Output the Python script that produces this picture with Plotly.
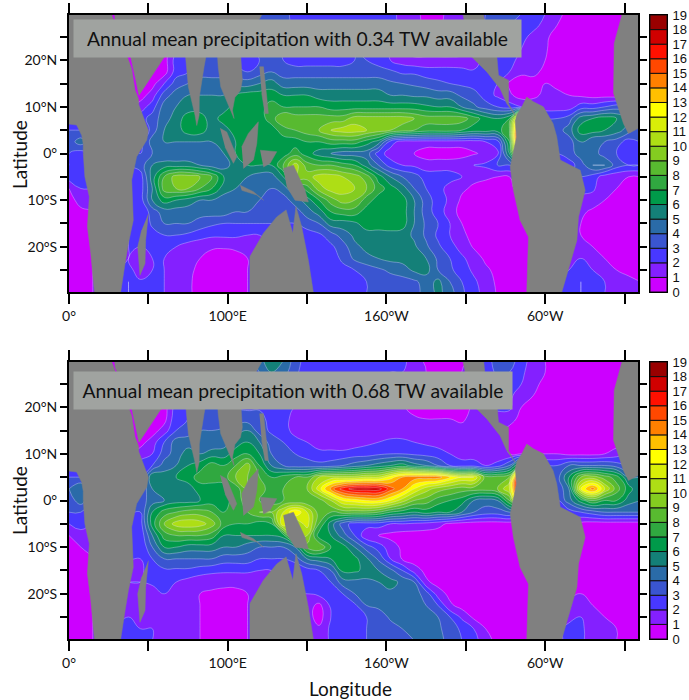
import plotly.graph_objects as go

lons = [i * 7.5 for i in range(49)]
lats = [30 - i * 2.5 for i in range(25)]
levels = list(range(20))
band_colors = ["#CC00FF","#8420FF","#4838FF","#3A55D0","#2A6BA8","#148078","#009A4A","#30A840","#58BA30",
               "#84CC20","#AEDE15","#D8EE08","#FFFF00","#FFC000","#FF8000","#FF4800","#FF1000","#D00000","#990000"]

precip_034 = [
 [.5,.5,.5,.5,.5,.5,.5,.5,.5,.5,.5,.5, 2,2.5,3,3.5,3.5,3.5,3.5,2.5,2.5,2.5,2.5,2.5, 2.5,2.5,2.5,2.5,1.5,1.5,.5,.5,1.5,1.5,2,3, 3.5,3.5,3,2.5,2,1.5,.5,.5,.5,.5,.5,.5, .5],
 [.5,.5,.5,.5,.5,.5,.5,.5,1,2,3,3, 3,3,3,3.5,3.5,3.5,3.5,2.5,2.5,2.5,2.5,2.5, 2.5,2.5,2.5,2.5,1.5,1.2,.8,.8,1.2,1.5,2,3, 3.2,3,2.5,2.2,1.8,1,.5,.5,.5,.5,.5,.5, .5],
 [.5,.5,.5,.5,.5,.5,.5,.5,.8,2,3,3, 3,3,3,3.2,3.2,3.2,3,2.5,2.5,2.5,2.5,2.5, 2.5,2.5,2.5,2.2,1.2,1,.7,.7,.9,1.2,2,2.5, 3,2.8,2.2,1.8,1.2,.6,.5,.5,.5,.5,.5,.5, .5],
 [.5,.5,.5,.5,.5,.5,.5,.5,.6,2,2.8,3, 3,3,3,3,3.2,3.2,3,2.5,2.5,2.5,2.5,2.5, 3,2.5,2.5,2,.8,.5,.5,.5,.5,.7,1.2,2, 2.5,2.5,2,1.5,1.1,.6,.5,.5,.5,.5,.5,.5, .5],
 [.5,.5,.5,.5,.5,.5,.5,.5,.5,2.5,3,3, 3.5,3.5,3,2.5,3,3.5,3,2.5,2.5,2.5,2.5,2.5, 3,3,2.5,2,1.5,1.2,1.2,1.2,1.2,1.2,1.2,2.5, 2.5,2.5,1.5,1.2,1,.5,.5,.5,.5,.5,.5,.5, .5],
 [.5,.5,.5,.5,.5,.5,.5,.5,.5,2.5,3,3.5, 3.5,3.5,3.5,3,3.5,4,3.5,3.5,3.5,3.5,3.5,3.5, 3.5,3.5,3.5,3.2,2.8,2.8,2.5,2.5,2.5,2.4,2.2,2, 2.5,2,1.2,1.2,.8,.5,.5,.5,.5,.5,.5,.5, .5],
 [.5,.5,.5,.5,.5,.5,.5,.6,2,3.5,4,4.5, 4.5,4.5,4.5,4.5,5,5.5,4.5,4.5,4.5,4.5,4.5,4.5, 4.5,4.5,4.5,4.2,4,3.8,3.5,3.2,3,2.8,2.5,2.2, 2,.8,.5,.7,1,.5,.5,.5,.5,.5,.5,.5, .5],
 [.5,.5,.5,.5,.5,.5,.5,1.5,3.5,4.5,5,5, 5,5,6,6.5,6.5,6.5,6,6,6,5.5,5.5,5.5, 5.5,5.5,5.5,5,5,4.8,4.8,4.5,4.5,3.8,3.5,2.5, 1.8,1.2,.5,.8,1.2,1.5,1,.8,.6,.6,.5,.5, .5],
 [1,1,1,1,1,1,1.5,2.5,4.5,5,5.5,5.5, 5.5,5.5,6.5,6.5,6.5,7.5,7,7,7,7,6.5,6.5, 6.5,6.5,6.5,6.5,6.5,6.5,6.2,6,6,5,4.2,3.5, 3,2.5,2,1.5,1.5,1.5,1.5,2.5,2.5,3,3.5,3.5, 3.5],
 [2,2,2,2,2,2,2.5,3.5,4.5,5.5,6.5,6.5, 5.5,6.5,6.5,6.5,6.5,7.5,9,8.5,8.5,8.5,8.5,8.5, 9.5,9.5,9.5,9.5,9.5,9,8.5,8.5,8.5,8.5,7.5,6.5, 6,7,15,4,3,3,3.5,5.5,6,6.5,6,5, 4],
 [3,3,3,3,2.5,2,1.5,3.5,5,5.5,6.5,6.5, 5.5,5.5,6.5,6.5,6.5,6.5,7.5,8,8.5,9,10,10.5, 10.5,10,9.5,9,8.5,8,7.5,7.5,7.5,7,6.5,6.5, 6.5,8,19,4.5,3.5,3.5,4.5,6.5,6.5,6,5.5,4.5, 3],
 [3.5,4.5,3,3,3,3,2.5,4.5,5,5,5,5, 5,5.5,6,6,6,6,6.5,6.5,7,7,7.5,7.5, 7.5,6.5,5.5,2.5,1.5,1.5,1.5,1.5,1.5,1.5,1.5,2, 2.5,7,19,3.5,3,3,3.5,5,4,4,3.5,2.5, 3],
 [3,2.5,3,3,3,3,3,4,4,4,4,4, 4,5,6,6,6,6,6.5,7.5,6.5,5.5,5,4.5, 4.5,4.5,2.5,1.5,1.3,1,.5,.5,.5,.5,.9,1.2, 1.8,6,14,3,3,3,3.5,4.5,4.5,3.5,3,2.5, 2.5],
 [3,2.5,2.5,2.5,2.5,3,3.5,5,5.5,5.5,5.5,5, 4.5,4.5,5.5,6,6,6,8,10.5,8.5,8,8,7.5, 7,5.5,4,2.5,2,1.8,1.5,1.5,1.5,1.8,2,2.2, 3,3,5,3,2.8,2.6,2.5,3.5,5,5,3.5,3, 3],
 [2.5,2.5,2,2,2,2,2.5,5.5,8,9.5,9.5,9, 8,6,5.5,5,4.5,4.5,6,10,9.5,10.5,10.5,10, 9.5,8.5,6.5,5,4,3.5,2.5,2.5,2.5,2,1.3,1.2, 1,1,1,1.5,2,2.5,3,3,2.5,1.5,1.2,1, 1],
 [1,2,2,2,2,2,2.5,5,8.5,9,9,8, 7,5.5,5,4.5,4.5,4,4.5,6,7.5,9.5,10.5,10.5, 10,9,7.5,6.5,5.5,4,3,2.5,1.5,1.2,.8,.5, .5,.7,1.5,2,2.5,2.8,2.8,2.5,2.2,1.2,1,.7, .6],
 [.5,1.5,1.5,1.5,1.5,2,2.5,5,6.5,6,5.5,5, 5,4.5,4.5,4.5,4,3.5,3.5,4.5,5.5,7,8.5,9.5, 9,7.5,6.5,6.5,6.5,5,3.5,2.5,1.8,.8,.5,.5, .5,.5,1,1.5,1.5,1.5,1.5,1.5,1.5,1,.7,.6, .5],
 [.5,.7,1,1,1.5,2,2,3.5,4.5,4.5,4.5,4.5, 4.5,4.5,4,4,3.5,3,3,3.5,4.5,5.5,7,7.5, 7.5,6.5,6.5,6.5,6.5,5,3.5,2.5,1.5,.6,.5,.5, .5,.5,.5,.8,1,1,1.2,1.2,.8,.7,.5,.5, .5],
 [.5,.5,1,1,1.5,2,2,3.2,4,4,4,3.5, 3.2,3,3,3,3,3,3,3,3.5,4,5.5,5.5, 5.8,6.5,6.5,6.5,6.5,5,3.8,3,2,1,.5,.5, .5,.5,.5,.6,.7,.8,1,1,.7,.5,.5,.5, .5],
 [.5,.5,1,1,1.5,2,2,2.6,3,3,2.8,2.5, 2.2,2.2,2.2,2,2,2,2,2.2,2.5,2.8,3.5,4.5, 5.2,5.6,5.6,5.7,5.5,4.8,3.8,2.8,2,1.2,.7,.5, .5,.5,.5,.5,.6,.8,1,1,.7,.5,.5,.5, .5],
 [.5,.5,1,1,1.5,2,2,2.2,2.2,2,1.5,1.2, 1.1,1.1,1.2,1.5,1.8,2,2,2.1,2.2,2.5,2.8,3.5, 4.8,5.2,5.4,5.5,5.5,5.2,4.2,3.2,2.4,1.6,.9,.6, .5,.5,.5,.5,.7,1,1.5,1.5,1,.7,.5,.5, .5],
 [.5,.5,1,1,1.5,2,1.5,2,2,1.5,1.2,1, .7,.5,.6,1,1.5,2,2,2,2,2.2,2.5,3.2, 4.2,4.8,5,5.3,5.4,5.3,5,3.8,3,2.2,1.5,.8, .6,.5,.5,.5,.8,1.2,1.5,2,1.5,1,.7,.5, .5],
 [.5,.5,1,1.5,2,2.5,1.2,2,2,1.3,1.1,.9, .5,.5,.5,1,1.5,2,2,2,2,2.2,2.3,2.7, 3,3.3,3.8,4.2,4.5,5.2,5.4,4,3.2,2.5,1.8,1.2, .7,.5,.5,.5,1,1.5,2,2.5,2,1.5,1,.8, .7],
 [.5,.5,1,1.5,2.5,3,2.2,2.2,2,1.3,1.1,.8, .5,.5,.5,1,1.5,2,2,2,2,2.2,2.3,2.5, 2.8,3,3.3,3.5,3.6,3.8,4.4,5.3,4,3,2.2,1.5, .8,.5,.5,.5,1,2,2.5,3,2.5,2,1.5,1.2, 1],
 [.5,.5,1,1.5,2.5,3,2.5,2.2,2,1.3,1.1,.8, .5,.5,.5,1,1.5,2,2,2,2,2.2,2.3,2.5, 2.8,3,3.2,3.4,3.6,3.8,4.2,5.3,4.5,3.2,2.4,1.6, .9,.5,.5,.5,1,2,2.5,3,2.5,2,1.5,1.2, 1],
]

precip_068 = [
 [.5,.5,.5,.5,.5,.5,.5,.5,.5,.5,.5,.5, 2,2.5,3,3.5,4.5,6,5,3.5,2.5,2.5,2.5,2.5, 2.3,2.3,2.3,2.3,2.3,1.5,.8,.5,.5,.5,1.5,2.5, 3.5,3.5,2.5,1.5,1,.7,.5,.5,.5,.5,.5,.5, .5],
 [.5,.5,.5,.5,.5,.5,.5,.5,1,2,3,3, 3,3,3,3.5,4,5,4.5,3.2,2.5,2.2,2.2,2.2, 2.2,2.2,2.2,2,2,1.5,1,.8,.8,1,1.5,2.5, 3.2,3,2.2,1.5,1,.6,.5,.5,.5,.5,.5,.5, .5],
 [.5,.5,.5,.5,.5,.5,.5,.5,.8,2,3,3, 3,3,3,3.2,3.5,4,3.5,3,2.5,2,2,2, 2,2,2,1.8,1.6,1.2,.8,.6,.6,.8,1.2,2.2, 2.8,2.6,2,1.2,.8,.5,.5,.5,.5,.5,.5,.5, .5],
 [.5,.5,.5,.5,.5,.5,.5,.5,.6,2,2.8,3, 3,3,3,3,3,3,3,2.5,2.2,1.8,1.8,1.6, 1.6,1.6,1.6,1.5,1.2,.8,.5,.5,.5,.6,1,1.8, 2.2,2.2,1.5,1,.6,.5,.5,.5,.5,.5,.5,.5, .5],
 [.5,.5,.5,.5,.5,.5,.5,.5,.5,2.5,3,3, 3,3,3,2.8,2.8,2.5,2.5,2,2,1.7,1.7,1.4, 1.5,1.5,1.5,1.5,1.2,.5,.5,.5,.5,.5,1.2,2, 2.2,2.2,1,.8,.5,.5,.5,.5,.5,.5,.5,.5, .5],
 [.5,.5,.5,.5,.5,.5,.5,.5,.6,2.8,3,3, 3,3.2,3.5,3.5,3.5,2.5,2.5,1.5,1.3,1.2,1.2,1.2, 1.2,1.2,1.3,1.3,1.3,1.2,1,1,1,.9,1.2,1.5, 1.6,1.5,.6,.5,.5,.5,.5,.5,.5,.5,.5,.5, .5],
 [.5,.5,.5,.5,.5,.5,.5,.5,1.5,3,3.5,4, 4,4.2,4.5,5,3.5,2.8,2.6,1.5,1.2,1.2,1.2,1.2, 1.2,1.3,1.5,1.5,1.5,1.5,1.3,1.3,1.2,1.2,1.5,1.5, 1.3,.6,.5,.5,.5,.5,.5,.5,.5,.5,.5,.5, .5],
 [.5,.5,.5,.5,.5,.5,.6,1.5,3,4.5,4.5,4.5, 4.2,4.5,5.5,6,5,3.5,3,2.5,2,1.5,1.4,1.3, 1.5,1.8,2,2.2,2.2,2,1.8,1.6,1.4,1.4,1.6,1.7, 1.3,.9,.5,.5,.5,.5,.5,.5,.5,.5,.5,.5, .5],
 [1,1,1,1,1,1,1.5,2,3.5,4.5,5.5,5, 5.5,5.5,6.5,7,6,4,3.2,3,2.6,2.3,2.3,2.3, 2.5,2.5,2.8,3,3,2.8,2.6,2.4,2,1.5,1.5,1.5, 1,1,1,1,1,1,.7,.7,.7,1,1.5,2, 2],
 [2,2,2,2,2,2,2.5,3,4.5,5,6,6.5, 7.5,7,8,9.5,7,5,4,3.5,3.5,3.3,3.5,4, 4.5,5,5.5,6,6.5,5.5,5,4,3,2.5,2.5,2, 2.5,4,8,3,3,3,4,4,4,4,3.5,3, 3],
 [3,3,3,3,2.5,2,2,6,5.5,6,6.5,7.5, 7.5,7.5,9,9,8,7,7.5,8,8,10,10.5,10.5, 10.5,11,11,12.5,14,14.5,14.5,14.5,13,12,12,8.5, 8.5,9,19,8,5,3.5,6,9,9.5,8.5,7.5,5, 5],
 [4,5,3,3,3,3,3,5,5.5,5.5,5.5,6.5, 6.5,6.5,7.5,9,8.5,7.5,8,8,9,11.5,14.5,16.5, 17.5,17.5,17.5,15.5,14,12,10.5,9.5,9,8.5,8.5,8.5, 9,11,19,8,5,3,5,12,14.5,11,8.5,6.5, 5],
 [3.5,4.5,3,3,3,3,3.5,4.5,5,5.5,5.5,6, 6.5,6.5,7.5,8.5,8,7.5,8,8,8,8.5,10,12, 12.5,13,13,12,10.5,9,8.5,7.5,7,6.5,5,4.5, 5,8,15,4,3,3,4.5,6.5,8,7,7,5.5, 5],
 [3,3,2.5,2.5,2.5,3,3,6,7.5,8,8.5,8.5, 8,7,7.5,8,9,9,11,13,11,8.5,8,8.5, 8.5,8.5,8,7,6.5,6,6.5,6,6,5,4,3.5, 3.5,4,3,3,3,2.5,2.5,3,3.5,4,4,4, 4],
 [2,2.5,2,2,2,2,2.5,6.5,9,10.5,10.8,10.5, 9.5,7.5,7,7,6.5,7,12,10,11.5,8,5.5,3.5, 2.5,2.5,2.5,2,2,1.8,1.6,1.3,.8,.6,.5,.5, .5,.5,.5,1,1.5,1.5,1.5,.7,.5,.5,.5,.5, .5],
 [1,1.5,1.5,1.5,1.5,2,2.2,5,7.5,8,8,8, 7.5,6,6,6,6,6,6.5,11,10,6.5,6,4.5, 3,1.2,1,.7,.5,.5,.5,.5,.5,.5,.5,.5, .5,.5,.5,.5,.5,.5,.5,.5,.5,.5,.5,.5, .5],
 [.5,1,1,1,1.5,2,2,4,6,6,5.5,5.5, 5.5,5,5,4.5,4,4,4,5,8.5,9,7,6.5, 5,3.5,2.5,1.5,.8,.5,.5,.5,.5,.5,.5,.5, .5,.5,.5,.5,.5,.5,.5,.5,.5,.5,.5,.5, .5],
 [.5,.5,1,1,1.5,2,2,3,4,4,4,4, 4,3.5,3.5,3.5,3,3,3,3.5,5,5.5,6,6.5, 6.3,5.2,3.8,2,.9,.5,.5,.5,.5,.5,.5,.5, .5,.5,.5,.5,.5,.5,.5,.5,.5,.5,.5,.5, .5],
 [.5,.5,1,1,1.5,1.8,1.8,2.5,2.8,2.8,2.8,2.5, 2.3,2.2,2.2,2.2,2,2,2,2,2.5,3,4,6.3, 6.2,5.7,5,4.3,3,1.5,.7,.5,.5,.5,.5,.5, .5,.5,.5,.5,.5,.5,.5,.5,.5,.5,.5,.5, .5],
 [.5,.5,1,1,1.5,2,2,2.2,2.2,2,1.6,1.3, 1.2,1.2,1.2,1.2,1.5,1.8,2,2,2,2.5,3,4.5, 4.7,4.7,5,5.3,4.8,4,1.2,.6,.5,.5,.5,.5, .5,.5,.5,.5,.5,.5,.6,.8,.6,.5,.5,.5, .5],
 [.5,.5,1,1,1.2,1.5,1.2,1.5,2,1.2,1.1,1, .9,.8,.8,1,1.5,1.8,2,2,2,2.3,2.6,3, 4,4.3,4.5,4.8,4.8,4.5,3.5,1.5,.7,.5,.5,.5, .5,.5,.5,.5,.5,.6,.8,1,.8,.5,.5,.5, .5],
 [.5,.5,1,1,1.2,1.5,1.2,1.8,1.5,1.1,1.1,1, .6,.5,.5,1,1.3,1.5,1.5,1.5,1.5,.7,2.2,2.5, 2.8,4,4.3,4.5,4.5,4.3,4,3,1.2,.6,.5,.5, .5,.5,.5,.5,.6,.9,1.2,1.5,1,.7,.5,.5, .5],
 [.5,.5,1,1.5,1.8,2,1,1.8,1.5,1.1,1.1,1, .5,.5,.5,1,1.3,1.5,1.5,1.5,1.5,.5,2,2.3, 2.6,3,3.3,4.2,4.3,4.5,4.4,4,3,1.8,.8,.5, .5,.5,.5,.5,.7,1,1.5,2,1.5,1,.7,.5, .5],
 [.5,.5,1,1.5,2,2.5,2,2,1.5,1.1,1.1,1, .5,.5,.6,1,1.3,1.5,1.5,1.5,1.8,1.2,2.2,2.4, 2.6,3,3.2,3.5,4,4.2,4.4,4.2,3.5,2.8,2,1, .5,.5,.5,.5,.8,1.5,2.5,2.2,1.5,1.2,1,.6, .6],
 [.5,.5,1,1.5,2,2.5,2,2,1.5,1.1,1.1,1, .5,.5,.6,1,1.3,1.5,1.5,1.5,1.8,1.2,2.2,2.4, 2.6,3,3.2,3.5,3.8,4,4.4,4.2,3.8,3,2.4,1.4, .7,.5,.5,.5,.8,1.5,2.5,2.2,1.5,1.2,1,.6, .6],
]

# land outlines, lon then lat, None separates the landmasses
land_lon = [0,0,4.8,8,9,9,10,12.8,11.6,13.7,16.4,32,35,37.4,40.5,39.5,42.6,49,50,44,43.7,41.6,39.5,36.8,28,27,27,0,None,
 28.5,29,38.9,42.6,44.1,60.5,62,72,75.2,79.4,80.5,82,82.1,85.1,86.3,88,93,94,95.6,99.4,104,103,104.5,108,109.2,108.2,112,121.4,121.4,28.5,None,
 120,122.5,124.6,125.6,123.5,121.4,None,
 95.2,99.4,105.7,103.6,98.3,None,
 108.8,113,119.3,118.3,116.2,109.9,None,
 107.8,116.2,122.5,118.3,108.8,None,
 120.4,130.9,126.7,122.5,None,
 135,141.4,148.7,150.8,142.4,137.2,None,
 114,114,122.5,130.9,136.8,141,143,146.6,150.8,154,154.5,114,None,
 50,48.3,47.9,44.7,43.3,45.8,None,
 247.5,253.8,263.3,271.6,275.8,281.1,276.9,276.9,270.6,269.6,263.7,261,261,247.5,None,
 282,285.3,288.4,292.6,298.9,305,307.3,309.5,322.1,325.2,321,320,310.5,310.5,288.4,288.4,289.5,284.2,280,278,282,281.1,None,
 349.4,343.5,343.1,349.4,352.5,358.8,360,360,349.4]
land_lat = [31,6.3,6.1,3.9,2,0,-5,-9.3,-15.7,-21.4,-31,-31,-24.3,-19.3,-14.3,-5.7,-0.7,2.9,5,10.4,11.8,13.6,18.2,20.7,28.6,29.7,31,31,None,
 31,28.6,20.7,15,12.5,20.9,26,26,14.3,8.2,6,8.2,12.1,18.6,20.9,24,24,18.6,14.3,11.4,7.5,9.3,12,13.5,15.7,20.9,24,29.7,31,31,None,
 18.6,18.6,12.1,8.6,8.6,12.9,None,
 5.4,4.6,-0.7,-2.1,1.4,None,
 1.4,4.3,6.8,2.1,-1.4,-3.2,None,
 -6.8,-8.2,-10,-8.9,-7.9,None,
 0.7,0.4,-2.1,-2.9,None,
 -3.2,-2.5,-7.9,-10.4,-10,-7.1,None,
 -31,-22.1,-17.1,-13.6,-12.1,-17.1,-11.4,-15.7,-22.9,-29.7,-31,-31,None,
 -12.9,-18.6,-23.6,-26.1,-20,-16.4,None,
 31,20.7,17.5,13.9,10.7,8.2,10.7,15.7,16.8,20.7,21,29.7,31,31,None,
 8.2,10,12.1,11.1,10,6.4,3.6,-1.4,-3.6,-7.9,-13.6,-18.6,-29.7,-31,-31,-29.7,-17.9,-14.3,-7.9,-2.9,3.6,7.1,None,
 31,23.6,12.9,6.4,4.3,5.4,5.4,31,31]

x_tick_vals = [0,50,100,150,200,250,300,350]
x_tick_text = ["0°","","100°E","","160°W","","60°W",""]
y_tick_vals = [-25,-20,-15,-10,-5,0,5,10,15,20,25]
y_tick_text = ["","20°S","","10°S","","0°","","10°N","","20°N",""]
panel_titles = ["Annual mean precipitation with 0.34 TW available",
                "Annual mean precipitation with 0.68 TW available"]

W, H = 689, 700
FONT = "Lato, 'Open Sans', sans-serif"
def xd(a, b): return [a / W, b / W]
def yd(t, b): return [1 - b / H, 1 - t / H]

n = len(band_colors)
stops = [band_colors[0]] + band_colors + [band_colors[-1]]
cscale = [[i / (len(stops) - 1), c] for i, c in enumerate(stops)]

fig = go.Figure()
panels = [(precip_034, "x", "y", "x3", "y3"), (precip_068, "x2", "y2", "x4", "y4")]
for z, xa, ya, xc, yc in panels:
    fig.add_trace(go.Contour(x=lons, y=lats, z=z, xaxis=xa, yaxis=ya, showscale=False,
        colorscale=cscale, zmin=-0.5, zmax=19.5, autocontour=False,
        contours=dict(start=-0.001, end=18.999, size=1, coloring="fill"),
        line=dict(color="rgba(225,230,255,0.35)", width=1, smoothing=1.3), hoverinfo="skip"))
    fig.add_trace(go.Scatter(x=land_lon, y=land_lat, xaxis=xa, yaxis=ya, mode="lines", fill="toself",
        fillcolor="#808080", line=dict(width=0.5, color="#808080"), hoverinfo="skip", showlegend=False))
    fig.add_trace(go.Bar(x=[0] * n, y=[1] * n, base=levels[:-1], width=1, xaxis=xc, yaxis=yc,
        marker=dict(color=band_colors, line=dict(color="#101010", width=1)), hoverinfo="skip", showlegend=False))

tickf = dict(family=FONT, size=14, color="#111")
common_x = dict(range=[0, 358.5], tickmode="array", tickvals=x_tick_vals, ticktext=x_tick_text, ticks="outside",
                ticklen=10, tickwidth=1.5, tickcolor="#000", showline=True, linewidth=2, linecolor="#000",
                mirror="allticks", showgrid=False, zeroline=False, tickfont=tickf, automargin=False)
common_y = dict(range=[-29.7, 29.7], tickmode="array", tickvals=y_tick_vals, ticktext=y_tick_text, ticks="outside",
                ticklen=7, tickwidth=1.5, tickcolor="#000", showline=True, linewidth=2, linecolor="#000",
                mirror="allticks", showgrid=False, zeroline=False, tickfont=tickf, automargin=False)
cb_x = dict(range=[-0.5, 0.5], showticklabels=False, ticks="", showline=True, linewidth=1, linecolor="#000",
            mirror=True, showgrid=False, zeroline=False, automargin=False)
cb_y = dict(range=[0, 19], side="right", tickmode="array", tickvals=levels, ticks="", ticklabelstandoff=2,
            showline=True, linewidth=1, linecolor="#000", mirror=True, showgrid=False, zeroline=False, automargin=False,
            tickfont=dict(family="'Liberation Sans Narrow', 'Liberation Sans', sans-serif", size=13, color="#111"))

def note(text, x, y, size=19, **kw):
    return dict(text=text, x=x / W, y=1 - y / H, xref="paper", yref="paper", showarrow=False,
                xanchor="center", yanchor="middle",
                font=dict(family=FONT, size=size, color="#111"), **kw)

fig.update_layout(
    width=W, height=H, autosize=False, margin=dict(l=0, r=0, t=0, b=0),
    paper_bgcolor="white", plot_bgcolor="white", showlegend=False, barmode="overlay",
    xaxis=dict(common_x, domain=xd(69, 638), anchor="y"),
    yaxis=dict(common_y, domain=yd(15, 292), anchor="x"),
    xaxis2=dict(common_x, domain=xd(69, 638), anchor="y2"),
    yaxis2=dict(common_y, domain=yd(362, 639), anchor="x2"),
    xaxis3=dict(cb_x, domain=xd(650, 667), anchor="y3"),
    yaxis3=dict(cb_y, domain=yd(15, 292), anchor="x3"),
    xaxis4=dict(cb_x, domain=xd(650, 667), anchor="y4"),
    yaxis4=dict(cb_y, domain=yd(362, 639), anchor="x4"),
    annotations=[
        note(panel_titles[0], 297.5, 38.5, size=19.3, bgcolor="#A0A3A0", width=445, height=35, align="center"),
        note(panel_titles[1], 293, 390.5, size=19.3, bgcolor="#A0A3A0", width=436, height=35, align="center"),
        note("Latitude", 19, 155, textangle=-90),
        note("Latitude", 19, 501, textangle=-90),
        note("Longitude", 350, 688),
    ],
)
fig.write_html("out.html", post_script="document.body.style.margin='0';", config={"displayModeBar": False})
